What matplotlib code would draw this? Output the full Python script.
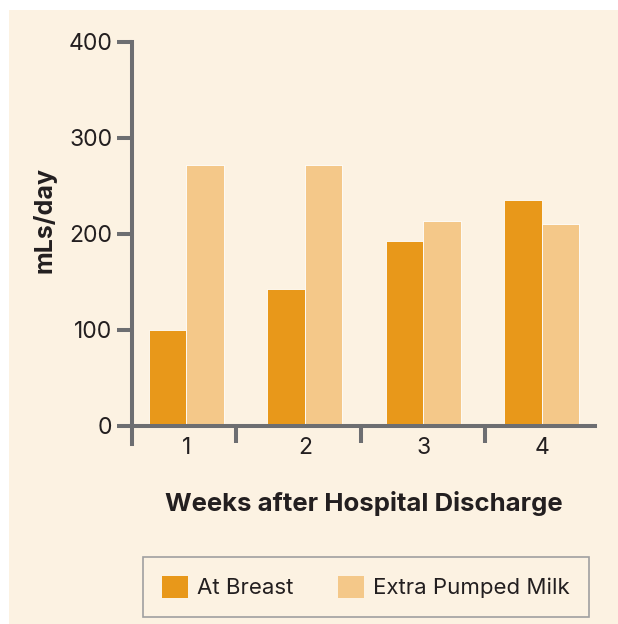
import matplotlib
matplotlib.use("Agg")
import matplotlib.pyplot as plt
from matplotlib.patches import Rectangle, Patch
import numpy as np

weeks = ["1", "2", "3", "4"]
at_breast = [100, 143, 193, 235]
extra_pumped = [272, 272, 213, 210]
series_names = ["At Breast", "Extra Pumped Milk"]
y_ticks = [0, 100, 200, 300, 400]

C_DARK = "#E8981A"
C_LIGHT = "#F4C889"
BG = "#FCF2E2"
AXC = "#6D6E71"
TXT = "#231F20"

plt.rcParams["font.family"] = ["Inter", "DejaVu Sans"]

W, H = 618, 624
fig = plt.figure(figsize=(W / 100, H / 100), dpi=100, facecolor="white")
fig.patches.append(Rectangle((9 / W, 0), 1, (H - 10) / H, transform=fig.transFigure,
                             facecolor=BG, edgecolor="none", zorder=-10))

ax_left, ax_right = 132 / W, 595 / W
ax_top, ax_bot = 1 - 42 / H, 1 - 444 / H
ax = fig.add_axes([ax_left, ax_bot, ax_right - ax_left, ax_top - ax_bot])
ax.set_facecolor("none")

x = np.arange(len(weeks))
w = 0.317
ax.bar(x - w / 2, at_breast, w, color=C_DARK, edgecolor="white", linewidth=0.6, zorder=2,
       label=series_names[0])
ax.bar(x + w / 2, extra_pumped, w, color=C_LIGHT, edgecolor="white", linewidth=0.6, zorder=2,
       label=series_names[1])

ax.set_xlim(-0.46, 3.45)
ax.set_ylim(-19, 400)

for s in ["top", "right"]:
    ax.spines[s].set_visible(False)
ax.spines["left"].set_color(AXC)
ax.spines["left"].set_linewidth(2.9)
ax.spines["bottom"].set_color(AXC)
ax.spines["bottom"].set_linewidth(2.9)
ax.spines["bottom"].set_position(("data", 0))
ax.spines["bottom"].set_zorder(3)

ax.set_yticks(y_ticks)
ax.set_yticklabels([str(v) for v in y_ticks])
ax.tick_params(axis="y", length=11, width=2.9, color=AXC, pad=3, labelsize=16.5, labelcolor=TXT)

ax.set_xticks(x)
ax.set_xticklabels(weeks)
ax.tick_params(axis="x", which="major", length=0, pad=8, labelsize=16.5, labelcolor=TXT)
ax.set_xticks([0.42, 1.47, 2.52], minor=True)
ax.tick_params(axis="x", which="minor", length=12, width=2.9, color=AXC, direction="out")

fig.text(45 / W, 1 - 220 / H, "mLs/day", rotation=90, ha="center", va="center",
         fontsize=18, fontweight="bold", color=TXT)
fig.text(364 / W, 1 - 503 / H, "Weeks after Hospital Discharge", ha="center", va="center",
         fontsize=18.5, fontweight="bold", color=TXT)

handles = [Patch(facecolor=C_DARK, edgecolor="none"), Patch(facecolor=C_LIGHT, edgecolor="none")]
leg = fig.legend(handles, series_names, ncol=2, loc="center",
                 bbox_to_anchor=(366 / W, 1 - 587 / H), bbox_transform=fig.transFigure,
                 fontsize=16, frameon=True, fancybox=False, edgecolor="#A0A0A0",
                 facecolor=BG, framealpha=1, handlelength=1.17, handleheight=1.17,
                 handletextpad=0.4, columnspacing=2.0, borderpad=0.85)
leg.get_frame().set_linewidth(1.2)
for t in leg.get_texts():
    t.set_color(TXT)

fig.savefig("out.png", dpi=100, facecolor="white")
